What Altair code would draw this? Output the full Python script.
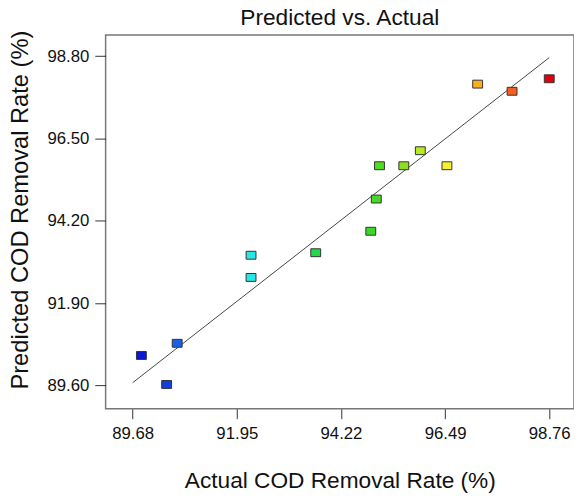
import altair as alt
import pandas as pd

FONT = "Liberation Sans"

actual = [89.87, 90.42, 90.65, 92.26, 92.26, 93.67, 94.87, 94.99, 95.06, 95.59, 95.95, 96.53, 97.20, 97.95, 98.76]
predicted = [90.44, 89.63, 90.78, 93.24, 92.62, 93.31, 93.91, 94.81, 95.74, 95.74, 96.16, 95.74, 98.02, 97.82, 98.17]

x_ticks = [89.68, 91.95, 94.22, 96.49, 98.76]
y_ticks = [89.60, 91.90, 94.20, 96.50, 98.80]
line_ends = [89.68, 98.76]

color_stops = [89.68, 90.42, 90.65, 92.26, 93.67, 94.9, 95.06, 95.6, 95.95, 96.53, 97.2, 97.95, 98.76]
color_range = ["#0808d8", "#1040e0", "#1a60e6", "#28e6e6", "#20d848", "#3cd828", "#50dc20",
               "#8ce020", "#b8e820", "#f6f030", "#f8b020", "#f46020", "#e00010"]

pts = pd.DataFrame({"actual": actual, "predicted": predicted})
ln = pd.DataFrame({"actual": line_ends, "predicted": line_ends})

xscale = alt.Scale(domain=[89.09, 99.30], nice=False, zero=False)
yscale = alt.Scale(domain=[88.95, 99.39], nice=False, zero=False)

xaxis = alt.Axis(values=x_ticks, format=".2f", title="Actual COD Removal Rate (%)",
                 grid=False, domain=False, tickSize=10, tickColor="#333", tickWidth=1,
                 labelFontSize=17, labelPadding=7, labelFont=FONT, labelColor="#111",
                 titleFontSize=23, titleFontWeight="normal", titleFont=FONT, titleColor="#111",
                 titleBaseline="alphabetic", titleY=80)
yaxis = alt.Axis(values=y_ticks, format=".2f", title="Predicted COD Removal Rate (%)",
                 grid=False, domain=False, tickSize=11, tickColor="#333", tickWidth=1,
                 labelFontSize=17, labelPadding=6, labelFont=FONT, labelColor="#111",
                 titleFontSize=24, titleFontWeight="normal", titleFont=FONT, titleColor="#111",
                 titleBaseline="alphabetic", titleAlign="center", titleX=-79, titleY=177)

line = alt.Chart(ln).mark_line(color="#444", strokeWidth=1).encode(
    x=alt.X("actual:Q", scale=xscale, axis=xaxis),
    y=alt.Y("predicted:Q", scale=yscale, axis=yaxis),
)

points = alt.Chart(pts).mark_point(
    shape="M -1.25 -1 L 1.25 -1 L 1.25 1 L -1.25 1 Z",
    filled=True, size=64, stroke="#333", strokeWidth=1, opacity=1,
).encode(
    x=alt.X("actual:Q", scale=xscale),
    y=alt.Y("predicted:Q", scale=yscale),
    color=alt.Color("actual:Q", scale=alt.Scale(domain=color_stops, range=color_range, interpolate="rgb"), legend=None),
)

chart = alt.layer(line, points).properties(
    width=475, height=379,
    title=alt.Title("Predicted vs. Actual", fontSize=23, fontWeight="normal", font=FONT,
                    color="#111", anchor="middle", frame="group", offset=0),
    autosize=alt.AutoSizeParams(type="none"),
    padding={"left": 99, "top": 24, "right": 0, "bottom": 88},
).configure_view(stroke="#777", strokeWidth=1.5)

chart.save("out.html", embed_options={"renderer": "svg", "actions": False})
